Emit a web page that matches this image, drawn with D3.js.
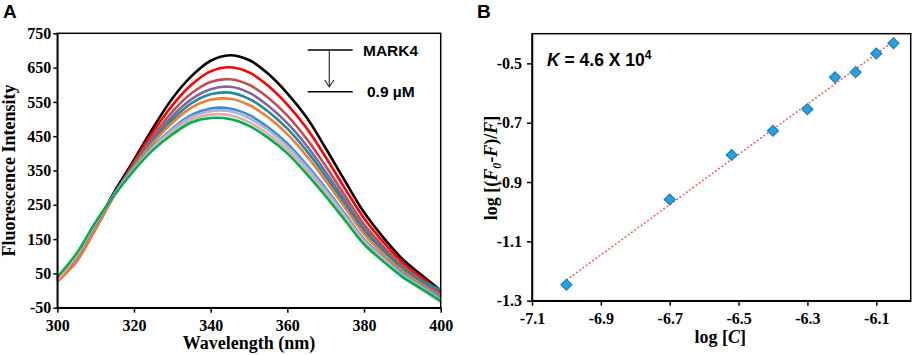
<!DOCTYPE html>
<html>
<head>
<meta charset="utf-8">
<script src="https://cdn.jsdelivr.net/npm/d3@7"></script>
<style>
  body { margin: 0; background: #fff; }
  svg { display: block; }
  .axis .tick text { font-family: "Liberation Serif", "Times New Roman", serif; font-weight: bold; font-size: 16px; fill: #000; }
  .axis path, .axis line { stroke: #000; stroke-width: 1.5; }
  .title { font-family: "Liberation Serif", "Times New Roman", serif; font-weight: bold; font-size: 18px; fill: #000; }
  .sans { font-family: "Liberation Sans", Arial, sans-serif; font-weight: bold; fill: #000; }
</style>
</head>
<body>
<div id="chart"></div>
<script>
// ---- panel A: emission spectra (nm -> intensity) ----
const wavelengths = [300, 305, 310, 315, 320, 325, 330, 335, 340, 345, 350, 355, 360, 365, 370, 375, 380, 385, 390, 395, 400];
const spBlack     = [34, 95, 190, 290, 381, 475, 560, 625, 670, 686, 672, 632, 575, 505, 415, 320, 228, 155, 92, 45, 0];
const spRed       = [27, 85, 180, 282, 375, 463, 540, 600, 639, 651, 636, 597, 542, 474, 389, 298, 211, 142, 82, 38, -4];
const spIndianRed = [28, 87, 183, 283, 369, 451, 521, 575, 608, 616, 600, 562, 510, 443, 363, 277, 193, 129, 73, 30, -10];
const spPurple    = [32, 90, 187, 284, 366, 443, 508, 558, 587, 594, 577, 539, 488, 423, 346, 263, 182, 120, 66, 25, -13];
const spTeal      = [34, 93, 190, 284, 363, 437, 498, 546, 572, 577, 559, 522, 472, 408, 333, 252, 173, 116, 64, 28, 2];
const spOrange    = [29, 86, 180, 279, 360, 431, 489, 533, 556, 559, 541, 505, 456, 393, 320, 242, 165, 107, 57, 18, -18];
const spBlue      = [35, 98, 193, 282, 355, 421, 472, 512, 531, 531, 512, 476, 429, 367, 298, 224, 150, 97, 49, 12, -22];
const spLightBlue = [36, 101, 196, 282, 354, 418, 468, 506, 523, 523, 503, 468, 421, 360, 292, 219, 146, 94, 46, 10, -26];
const spPink      = [30, 103, 198, 281, 352, 414, 461, 498, 513, 511, 491, 456, 411, 350, 283, 212, 141, 89, 40, 3, -34];
const spGreen     = [39, 108, 200, 280, 350, 410, 455, 490, 503, 500, 480, 445, 400, 340, 275, 205, 135, 85, 40, 5, -30];
const spectraColors = ['#000000', '#ff0000', '#c0504d', '#8064a2', '#218a9e', '#ed7d31', '#4a86c8', '#9dbbe0', '#e8a9a9', '#00b050'];
const xTicksA = [300, 320, 340, 360, 380, 400];
const yTicksA = [-50, 50, 150, 250, 350, 450, 550, 650, 750];

// ---- panel B: double-log plot ----
const logC  = [-7.0, -6.70, -6.52, -6.40, -6.30, -6.22, -6.16, -6.10, -6.05];
const logFF = [-1.246, -0.959, -0.809, -0.727, -0.655, -0.547, -0.530, -0.467, -0.432];
const xTicksB = [-7.1, -6.9, -6.7, -6.5, -6.3, -6.1];
const yTicksB = [-1.3, -1.1, -0.9, -0.7, -0.5];

const W = 913, H = 355;
const serif = '"Liberation Serif", "Times New Roman", serif';
const svg = d3.select('#chart').append('svg').attr('width', W).attr('height', H);

// ===== Panel A =====
(function () {
  const box = { left: 57.3, right: 440.7, top: 33.3, bottom: 307.7 };
  const x = d3.scaleLinear().domain([300, 400]).range([box.left, box.right]);
  const y = d3.scaleLinear().domain([-50, 750]).range([box.bottom, box.top]);
  const g = svg.append('g');

  const series = [spBlack, spRed, spIndianRed, spPurple, spTeal, spOrange, spBlue, spLightBlue, spPink, spGreen]
    .map((vals, i) => ({ color: spectraColors[i], values: wavelengths.map((w, j) => [w, vals[j]]) }));

  const line = d3.line()
    .x(d => x(d[0]))
    .y(d => y(d[1]))
    .curve(d3.curveCatmullRom.alpha(0.5));

  g.append('g').selectAll('path').data(series).join('path')
    .attr('fill', 'none')
    .attr('stroke', d => d.color)
    .attr('stroke-width', 2.6)
    .attr('d', d => line(d.values));

  g.append('g').attr('class', 'axis')
    .attr('transform', `translate(0,${box.bottom})`)
    .call(d3.axisBottom(x).tickValues(xTicksA).tickSize(5).tickSizeOuter(0).tickPadding(7).tickFormat(d => String(d)))
    .attr('font-family', serif).attr('font-size', 16);
  g.append('g').attr('class', 'axis')
    .attr('transform', `translate(${box.left},0)`)
    .call(d3.axisLeft(y).tickValues(yTicksA).tickSize(4).tickSizeOuter(0).tickPadding(2).tickFormat(d => String(d)))
    .attr('font-family', serif).attr('font-size', 16);

  g.append('rect')
    .attr('x', box.left).attr('y', box.top)
    .attr('width', box.right - box.left).attr('height', box.bottom - box.top)
    .attr('fill', 'none').attr('stroke', '#000').attr('stroke-width', 1.5);

  g.append('text').attr('class', 'title')
    .attr('x', (box.left + box.right) / 2).attr('y', 349)
    .attr('text-anchor', 'middle')
    .text('Wavelength  (nm)');
  g.append('text').attr('class', 'title')
    .attr('transform', `translate(15,${(box.top + box.bottom) / 2}) rotate(-90)`)
    .attr('text-anchor', 'middle')
    .text('Fluorescence  Intensity');

  // arrow key
  const kx1 = 307.7, kx2 = 352.7, ky1 = 50, ky2 = 91.7, ax = 329.3;
  g.append('line').attr('x1', kx1).attr('x2', kx2).attr('y1', ky1).attr('y2', ky1).attr('stroke', '#000').attr('stroke-width', 1.6);
  g.append('line').attr('x1', kx1).attr('x2', kx2).attr('y1', ky2).attr('y2', ky2).attr('stroke', '#000').attr('stroke-width', 1.6);
  g.append('line').attr('x1', ax).attr('x2', ax).attr('y1', ky1).attr('y2', 87).attr('stroke', '#333').attr('stroke-width', 1.2);
  g.append('path').attr('d', `M${ax - 4.5},${80} L${ax},${87} L${ax + 4.5},${80}`)
    .attr('fill', 'none').attr('stroke', '#333').attr('stroke-width', 1.2);
  g.append('text').attr('class', 'sans').attr('font-size', 15.5).attr('x', 363).attr('y', 55.5).text('MARK4');
  g.append('text').attr('class', 'sans').attr('font-size', 15.5).attr('x', 367).attr('y', 97).text('0.9 µM');

  g.append('text').attr('class', 'sans').attr('font-size', 19).attr('x', 3).attr('y', 18).text('A');
})();

// ===== Panel B =====
(function () {
  const box = { left: 532, right: 910.7, top: 33.7, bottom: 300.7 };
  const x = d3.scaleLinear().domain([-7.1, -6.0]).range([box.left, box.right]);
  const y = d3.scaleLinear().domain([-1.3, -0.4]).range([box.bottom, box.top]);
  const g = svg.append('g');

  // least-squares trend line through the points
  const mx = d3.mean(logC), my = d3.mean(logFF);
  const slope = d3.sum(logC, (v, i) => (v - mx) * (logFF[i] - my)) / d3.sum(logC, v => (v - mx) * (v - mx));
  const icpt = my - slope * mx;
  const ends = d3.extent(logC);
  g.append('line')
    .attr('x1', x(ends[0])).attr('y1', y(slope * ends[0] + icpt))
    .attr('x2', x(ends[1])).attr('y2', y(slope * ends[1] + icpt))
    .attr('stroke', '#f05a5a').attr('stroke-width', 1.5).attr('stroke-dasharray', '2,2');

  const diamond = d3.symbol().type(d3.symbolSquare).size(62);
  g.append('g').selectAll('path').data(logC.map((c, i) => [c, logFF[i]])).join('path')
    .attr('d', diamond)
    .attr('transform', d => `translate(${x(d[0])},${y(d[1])}) rotate(45)`)
    .attr('fill', '#22a2de').attr('stroke', '#1b74b4').attr('stroke-width', 1);

  g.append('g').attr('class', 'axis')
    .attr('transform', `translate(0,${box.bottom})`)
    .call(d3.axisBottom(x).tickValues(xTicksB).tickSize(5).tickSizeOuter(0).tickPadding(7).tickFormat(d => d.toFixed(1)))
    .attr('font-family', serif).attr('font-size', 16);
  g.append('g').attr('class', 'axis')
    .attr('transform', `translate(${box.left},0)`)
    .call(d3.axisLeft(y).tickValues(yTicksB).tickSize(5).tickSizeOuter(0).tickPadding(5).tickFormat(d => d.toFixed(1)))
    .attr('font-family', serif).attr('font-size', 16);

  g.append('rect')
    .attr('x', box.left).attr('y', box.top)
    .attr('width', box.right - box.left).attr('height', box.bottom - box.top)
    .attr('fill', 'none').attr('stroke', '#000').attr('stroke-width', 1.5);

  const xt = g.append('text').attr('class', 'title')
    .attr('x', (box.left + box.right) / 2 - 1).attr('y', 343).attr('text-anchor', 'middle');
  xt.append('tspan').text('log [');
  xt.append('tspan').attr('font-style', 'italic').text('C');
  xt.append('tspan').text(']');

  const yt = g.append('text').attr('class', 'title')
    .attr('transform', `translate(497,168) rotate(-90)`).attr('text-anchor', 'middle');
  yt.append('tspan').text('log [(');
  yt.append('tspan').attr('font-style', 'italic').text('F');
  yt.append('tspan').attr('font-style', 'italic').attr('font-size', 12).attr('dy', 4).text('0');
  yt.append('tspan').attr('dy', -4).text('-');
  yt.append('tspan').attr('font-style', 'italic').text('F');
  yt.append('tspan').text(')/');
  yt.append('tspan').attr('font-style', 'italic').text('F');
  yt.append('tspan').text(']');

  const kt = g.append('text').attr('class', 'sans').attr('font-size', 17.5).attr('x', 547).attr('y', 66);
  kt.append('tspan').attr('font-style', 'italic').text('K');
  kt.append('tspan').text(' = 4.6 X 10');
  kt.append('tspan').attr('font-size', 12).attr('dy', -7).text('4');

  g.append('text').attr('class', 'sans').attr('font-size', 19).attr('x', 477).attr('y', 18).text('B');
})();
</script>
</body>
</html>
